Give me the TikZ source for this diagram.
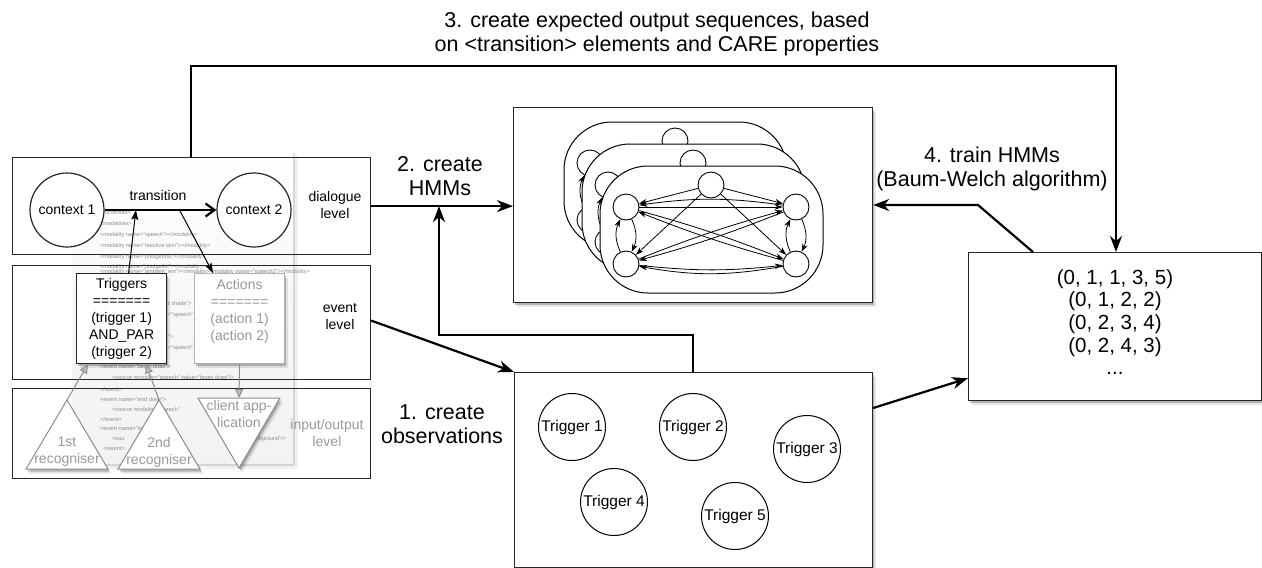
\documentclass[tikz,border=0pt]{standalone}
\usepackage{fontspec}
\setmainfont{Liberation Sans}
\usetikzlibrary{arrows.meta,calc,shadows}

\tikzset{
  softshadow/.style={
    general shadow={shadow xshift=1.5pt, shadow yshift=-2.5pt, fill=black, opacity=.22},
    general shadow={shadow xshift=3pt, shadow yshift=-4.5pt, fill=black, opacity=.10}},
  panel/.style={draw=black!85, line width=1.2pt, inner sep=0pt, anchor=north west},
  bigbox/.style={panel, fill=white, softshadow},
  ctx/.style={circle, draw=black!85, line width=1.2pt, fill=white, inner sep=0pt,
    minimum size=74pt, font=\fontsize{14}{17}\selectfont},
  smallbox/.style={draw=black!85, line width=1.2pt, fill=white, inner sep=0pt,
    minimum width=90pt, minimum height=90pt, align=center, anchor=north west,
    font=\fontsize{14}{17}\selectfont, softshadow},
  graybox/.style={smallbox, draw=black!30, text=black!40},
  lvl/.style={align=center, font=\fontsize{14}{17}\selectfont},
  biglbl/.style={align=center, font=\fontsize{21.5}{24.5}\selectfont},
  xml/.style={anchor=west, inner sep=0pt, text=black!45, font=\fontsize{5.6}{6}\selectfont},
  trig/.style={circle, draw=black, line width=1pt, fill=white, inner sep=0pt,
    minimum size=67pt, font=\fontsize{15.5}{18}\selectfont},
  st/.style={circle, draw=black, line width=.9pt, fill=white, inner sep=0pt, minimum size=26pt},
  ha/.style={line width=.8pt, -{Stealth[length=8pt,width=5.5pt]}},
  hmmshape/.style={draw=black, line width=1pt, fill=white, rounded corners=48pt},
  mainarr/.style={line width=2.2pt, -{Stealth[length=16pt,width=12pt,inset=5pt]}},
  thinarr/.style={line width=1pt, -{Stealth[length=10pt,width=7pt,inset=2pt]}},
  grayarr/.style={draw=black!45, line width=1pt, -{Triangle[length=9pt,width=8pt,fill=black!25]}},
  tri/.style={draw=black!45, line width=1pt, fill=white, softshadow},
  trilbl/.style={align=center, text=black!40, inner sep=0pt, font=\fontsize{14}{17}\selectfont},
}

% one layer of the stacked HMM illustration: shift x, shift y, name prefix
\newcommand\hmmlayer[3]{%
  \begin{scope}[shift={(#1,#2)}]
    \path[hmmshape] (600,166) rectangle (823,293);
    \node[st] (#3t) at (711,185) {};
    \node[st] (#3a) at (626,207) {};
    \node[st] (#3b) at (796,207) {};
    \node[st] (#3c) at (626,264) {};
    \node[st] (#3d) at (796,264) {};
    \draw[ha] (#3t) -- (#3a);
    \draw[ha] (#3t) -- (#3b);
    \draw[ha] (#3t) -- (#3c);
    \draw[ha] (#3t) -- (#3d);
    \draw[ha] (#3a) -- (#3b);
    \draw[ha] (#3b) to[bend right=8] (#3a);
    \draw[ha] (#3c) to[bend right=6] (#3d);
    \draw[ha] (#3d) to[bend left=10] (#3c);
    \draw[ha] (#3a) to[bend left=3] (#3d);
    \draw[ha] (#3d) to[bend left=3] (#3a);
    \draw[ha] (#3c) to[bend left=3] (#3b);
    \draw[ha] (#3b) to[bend left=3] (#3c);
    \draw[ha] (#3a) to[bend left=25] (#3c);
    \draw[ha] (#3c) to[bend left=25] (#3a);
    \draw[ha] (#3b) to[bend left=25] (#3d);
    \draw[ha] (#3d) to[bend left=25] (#3b);
  \end{scope}}

\begin{document}
\begin{tikzpicture}[x=1pt, y=-1pt]
\useasboundingbox (0,0) rectangle (1262,568);

% ---------- XML page behind the left-hand model ----------
\node[anchor=north west, inner sep=0pt, minimum width=221pt, minimum height=313pt,
  top color=white, bottom color=black!5, middle color=black!3,
  general shadow={shadow xshift=2pt, shadow yshift=-3pt, fill=black, opacity=.12},
  general shadow={shadow xshift=5pt, shadow yshift=-6pt, fill=black, opacity=.06}]
  (doc) at (72,150) {};
\node[xml] (x1) at (100,212) {</schemes>};
\node[xml] (x2) at (100,223) {<modalities>};
\node[xml] (x3) at (100,235) {<modality name="speech"></modality>};
\node[xml] (x4) at (100,246) {<modality name="reactive skin"></modality>};
\node[xml] (x5) at (100,257) {<modality name="phidgetrfid"></modality>};
\node[xml] (x6) at (100,267) {<modality name="phidgetkit"></modality>};
\node[xml] (x7) at (100,272) {<modality name="ambient\_em"></modality><modality name="speech2"></modality>};
\node[xml] (x8) at (168,303) {t shade">};
\node[xml] (x9) at (168,315) {="speech"};
\node[xml] (x11) at (168,337) {">};
\node[xml] (x12) at (168,348) {="speech"};
\node[xml] (x13) at (100,367) {<event name="begin draw">};
\node[xml] (x14) at (112,378) {<source modality="speech" value="begin draw"/>};
\node[xml] (x15) at (100,389) {</event>};
\node[xml] (x16) at (100,399) {<event name="end draw">};
\node[xml] (x17) at (112,410) {<source modality="speech"};
\node[xml] (x18) at (100,419) {</event>};
\node[xml] (x19) at (100,429) {<event name="background">};
\node[xml] (x20) at (112,439) {<sou};
\node[xml] (x20b) at (256,439) {ckground"/>};
\node[xml] (x21) at (103,448) {</event>};

% ---------- level frames ----------
\node[panel, minimum width=358pt, minimum height=97pt] (dlg) at (12,157) {};
\node[panel, minimum width=358pt, minimum height=114pt] (evt) at (12,265) {};
\node[panel, minimum width=358pt, minimum height=90pt] (io) at (12,388) {};

\node[lvl] (ldlg) at (335,205) {dialogue\\level};
\node[lvl] (levt) at (340,317) {event\\level};
\node[lvl, text=black!40] (lio) at (327,433) {input/output\\level};

% ---------- dialogue level ----------
\node[ctx] (c1) at (67,210) {context 1};
\node[ctx] (c2) at (254,210) {context 2};
\draw[line width=2.2pt, -{Straight Barb[length=9pt,width=13pt]}] (c1) -- (c2)
  coordinate[pos=.28] (trin) coordinate[pos=.67] (trout);
\node[font=\fontsize{14}{17}\selectfont] (trlbl) at (158,195) {transition};

% ---------- event level ----------
\node[smallbox] (trg) at (76,273) {Triggers\\=======\\(trigger 1)\\AND\_PAR\\(trigger 2)};
\node[graybox] (act) at (194,273) {Actions\\=======\\(action 1)\\(action 2)\\\mbox{}};
\draw[thinarr] ($(trg.north)+(7,0)$) -- (trin);
\draw[thinarr] (trout) -- ($(act.north west)+(19,0)$);

% ---------- input/output level ----------
\coordinate (r1top) at (67,400);
\coordinate (r2top) at (159,400);
\coordinate (cabot) at (239,468);
\draw[tri] (r1top) -- (108,469) -- (26,469) -- cycle;
\draw[tri] (r2top) -- (200,469) -- (118,469) -- cycle;
\draw[tri] (198,398) -- (280,398) -- (cabot) -- cycle;
\coordinate (catop) at (239,398);
\node[trilbl] (r1) at (67,452) {1st\\recogniser};
\node[trilbl] (r2) at (159,452) {2nd\\recogniser};
\node[trilbl] (ca) at (239,414) {client app-\\lication};
\draw[grayarr] (r1top) -- ($(trg.south west)+(12,0)$);
\draw[grayarr] (r2top) -- ($(trg.south west)+(70,0)$);
\draw[grayarr] (act.south) -- (catop);

% ---------- HMM box ----------
\node[bigbox, minimum width=359pt, minimum height=195pt] (hmm) at (513,107) {};
\hmmlayer{-36}{-44}{k}
\hmmlayer{-18}{-22}{m}
\hmmlayer{0}{0}{f}

% ---------- observation box ----------
\node[bigbox, minimum width=358pt, minimum height=195pt] (obs) at (514,372) {};
\node[trig] (t1) at (572,427) {Trigger 1};
\node[trig] (t2) at (693,427) {Trigger 2};
\node[trig] (t3) at (807,449) {Trigger 3};
\node[trig] (t4) at (614,502) {Trigger 4};
\node[trig] (t5) at (735,516) {Trigger 5};

% ---------- output sequences ----------
\node[bigbox, minimum width=293pt, minimum height=148pt] (seq) at (968,252) {};
\node[align=center, font=\fontsize{20.5}{22.7}\selectfont] (seqtxt) at (1115,322)
  {(0, 1, 1, 3, 5)\\(0, 1, 2, 2)\\(0, 2, 3, 4)\\(0, 2, 4, 3)\\...};

% ---------- process steps ----------
\node[biglbl] (s3) at (657,34) {3. create expected output sequences, based\\on <transition> elements and CARE properties};
\node[biglbl] (s2) at (440,176) {2. create\\HMMs};
\node[biglbl] (s4) at (992,169) {4. train HMMs\\(Baum-Welch algorithm)};
\node[biglbl] (s1) at (442,424) {1. create\\observations};

\coordinate (topL) at (191,66);
\coordinate (topR) at (1116,66);
\draw[mainarr] (dlg.north -| topL) -- (topL) -- (topR) -- (seq.north -| topR);

\draw[mainarr] (dlg.east) -- (dlg.east -| hmm.west);

\coordinate (fb) at (439,335);
\draw[mainarr] (obs.north -| t2) |- (fb) -- (fb |- dlg.east);

\draw[mainarr] ($(evt.east)+(0,-2)$) -- (obs.north west);

\coordinate (bend4) at (978,205);
\draw[mainarr] ($(seq.north west)+(65,0)$) -- (bend4) -- (bend4 -| hmm.east);

\draw[mainarr] ($(obs.north east)+(0,36)$) -- ($(seq.south west)+(0,-23)$);
\end{tikzpicture}
\end{document}
